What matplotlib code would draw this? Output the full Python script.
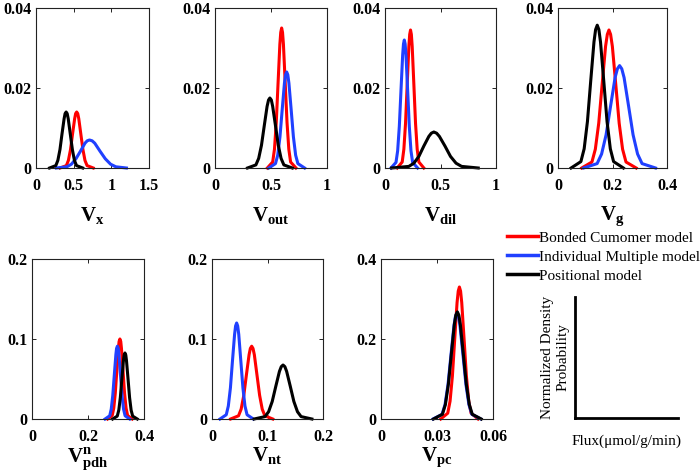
import matplotlib.pyplot as plt
from matplotlib.lines import Line2D

plt.rcParams['font.family'] = ['Liberation Serif', 'DejaVu Serif']
plt.rcParams['mathtext.fontset'] = 'custom'
plt.rcParams['mathtext.rm'] = 'Liberation Serif'
plt.rcParams['mathtext.bf'] = 'Liberation Serif:bold'
plt.rcParams['mathtext.it'] = 'Liberation Serif:italic'

RED = '#ff0000'
BLUE = '#2040ff'
BLACK = '#000000'

legend_labels = ['Bonded Cumomer model', 'Individual Multiple model', 'Positional model']

# ---- V_x ----
vx_red_x = [0.32, 0.403, 0.43, 0.458, 0.485, 0.513, 0.526, 0.54, 0.554, 0.568, 0.595, 0.623, 0.65, 0.678, 0.76]
vx_red_y = [0, 0.0006, 0.0019, 0.0046, 0.0085, 0.0123, 0.0136, 0.014, 0.0136, 0.0123, 0.0085, 0.0046, 0.0019, 0.0006, 0]
vx_blue_x = [0.27, 0.41, 0.47, 0.53, 0.59, 0.65, 0.68, 0.71, 0.745, 0.78, 0.85, 0.92, 0.99, 1.06, 1.2]
vx_blue_y = [0, 0.0003, 0.00095, 0.0023, 0.0042, 0.0062, 0.0068, 0.007, 0.0068, 0.0062, 0.0042, 0.0023, 0.00095, 0.0003, 0]
vx_black_x = [0.18, 0.263, 0.29, 0.318, 0.345, 0.373, 0.386, 0.40, 0.414, 0.428, 0.455, 0.483, 0.51, 0.538, 0.62]
vx_black_y = [0, 0.0006, 0.0019, 0.0046, 0.0085, 0.0123, 0.0136, 0.014, 0.0136, 0.0123, 0.0085, 0.0046, 0.0019, 0.0006, 0]

# ---- V_out ----
vout_red_x = [0.467, 0.515, 0.531, 0.547, 0.563, 0.579, 0.587, 0.595, 0.603, 0.611, 0.627, 0.643, 0.659, 0.675, 0.723]
vout_red_y = [0, 0.0015, 0.0047, 0.0114, 0.0212, 0.0309, 0.0339, 0.035, 0.0339, 0.0309, 0.0212, 0.0114, 0.0047, 0.0015, 0]
vout_blue_x = [0.48, 0.54, 0.56, 0.58, 0.60, 0.62, 0.63, 0.64, 0.65, 0.66, 0.68, 0.70, 0.72, 0.74, 0.80]
vout_blue_y = [0, 0.0011, 0.0032, 0.0078, 0.0146, 0.0212, 0.0233, 0.024, 0.0233, 0.0212, 0.0146, 0.0078, 0.0032, 0.0011, 0]
vout_black_x = [0.29, 0.365, 0.39, 0.415, 0.44, 0.465, 0.478, 0.49, 0.503, 0.515, 0.54, 0.565, 0.59, 0.615, 0.69]
vout_black_y = [0, 0.00077, 0.0024, 0.0057, 0.0106, 0.0154, 0.017, 0.0175, 0.017, 0.0154, 0.0106, 0.0057, 0.0024, 0.00077, 0]

# ---- V_dil ----
vdil_red_x = [0.11, 0.155, 0.17, 0.185, 0.20, 0.215, 0.2225, 0.23, 0.2375, 0.245, 0.26, 0.275, 0.29, 0.305, 0.35]
vdil_red_y = [0, 0.0015, 0.0047, 0.0112, 0.0209, 0.0304, 0.0334, 0.0345, 0.0334, 0.0304, 0.0209, 0.0112, 0.0047, 0.0015, 0]
vdil_blue_x = [0.054, 0.099, 0.114, 0.129, 0.144, 0.159, 0.1665, 0.174, 0.1815, 0.189, 0.204, 0.219, 0.234, 0.249, 0.294]
vdil_blue_y = [0, 0.0014, 0.0043, 0.0104, 0.0194, 0.0282, 0.031, 0.032, 0.031, 0.0282, 0.0194, 0.0104, 0.0043, 0.0014, 0]
vdil_black_x = [0.06, 0.215, 0.26, 0.305, 0.35, 0.395, 0.4175, 0.44, 0.465, 0.49, 0.54, 0.59, 0.64, 0.69, 0.84]
vdil_black_y = [0, 0.0004, 0.0012, 0.0029, 0.0055, 0.0079, 0.0087, 0.009, 0.0087, 0.0079, 0.0055, 0.0029, 0.0012, 0.0004, 0]

# ---- V_g ----
vg_red_x = [0.087, 0.1245, 0.137, 0.1495, 0.162, 0.1745, 0.181, 0.187, 0.193, 0.1995, 0.212, 0.2245, 0.237, 0.2495, 0.287]
vg_red_y = [0, 0.0015, 0.0047, 0.0112, 0.0209, 0.0304, 0.0334, 0.0345, 0.0334, 0.0304, 0.0209, 0.0112, 0.0047, 0.0015, 0]
vg_blue_x = [0.094, 0.1435, 0.16, 0.1765, 0.193, 0.2095, 0.218, 0.226, 0.234, 0.2425, 0.259, 0.2755, 0.292, 0.3085, 0.358]
vg_blue_y = [0, 0.0011, 0.0035, 0.0083, 0.0155, 0.0226, 0.0248, 0.0256, 0.0248, 0.0226, 0.0155, 0.0083, 0.0035, 0.0011, 0]
vg_black_x = [0.048, 0.084, 0.096, 0.108, 0.12, 0.132, 0.138, 0.144, 0.15, 0.156, 0.168, 0.18, 0.192, 0.204, 0.24]
vg_black_y = [0, 0.0016, 0.0048, 0.0116, 0.0217, 0.0315, 0.0346, 0.0357, 0.0346, 0.0315, 0.0217, 0.0116, 0.0048, 0.0016, 0]

# ---- V_pdh^n ----
vpdh_red_x = [0.27, 0.2865, 0.292, 0.2975, 0.303, 0.3085, 0.311, 0.314, 0.317, 0.3195, 0.325, 0.3305, 0.336, 0.3415, 0.358]
vpdh_red_y = [0, 0.0044, 0.0135, 0.0325, 0.0607, 0.0882, 0.0969, 0.1, 0.0969, 0.0882, 0.0607, 0.0325, 0.0135, 0.0044, 0]
vpdh_blue_x = [0.261, 0.2775, 0.283, 0.2885, 0.294, 0.2995, 0.302, 0.305, 0.308, 0.3105, 0.316, 0.3215, 0.327, 0.3325, 0.349]
vpdh_blue_y = [0, 0.004, 0.0123, 0.0296, 0.0552, 0.0803, 0.0882, 0.091, 0.0882, 0.0803, 0.0552, 0.0296, 0.0123, 0.004, 0]
vpdh_black_x = [0.288, 0.3045, 0.31, 0.3155, 0.321, 0.3265, 0.329, 0.332, 0.335, 0.3375, 0.343, 0.3485, 0.354, 0.3595, 0.376]
vpdh_black_y = [0, 0.0036, 0.0111, 0.0268, 0.0501, 0.0728, 0.0799, 0.0825, 0.0799, 0.0728, 0.0501, 0.0268, 0.0111, 0.0036, 0]

# ---- V_nt ----
vnt_red_x = [0.0335, 0.0478, 0.0525, 0.0573, 0.062, 0.0668, 0.0691, 0.0715, 0.0739, 0.0763, 0.081, 0.0858, 0.0905, 0.0953, 0.1095]
vnt_red_y = [0, 0.004, 0.0123, 0.0296, 0.0552, 0.0803, 0.0882, 0.091, 0.0882, 0.0803, 0.0552, 0.0296, 0.0123, 0.004, 0]
vnt_blue_x = [0.0144, 0.0257, 0.0294, 0.0332, 0.0369, 0.0407, 0.0425, 0.0444, 0.0463, 0.0482, 0.0519, 0.0557, 0.0594, 0.0632, 0.0744]
vnt_blue_y = [0, 0.0053, 0.0162, 0.039, 0.0728, 0.1058, 0.1163, 0.12, 0.1163, 0.1058, 0.0728, 0.039, 0.0162, 0.0053, 0]
vnt_black_x = [0.076, 0.0955, 0.102, 0.1085, 0.115, 0.1215, 0.1248, 0.128, 0.1313, 0.1345, 0.141, 0.1475, 0.154, 0.1605, 0.18]
vnt_black_y = [0, 0.003, 0.0091, 0.0219, 0.041, 0.0595, 0.0654, 0.0675, 0.0654, 0.0595, 0.041, 0.0219, 0.0091, 0.003, 0]

# ---- V_pc ----
vpc_red_x = [0.032, 0.03575, 0.037, 0.03825, 0.0395, 0.04075, 0.04138, 0.042, 0.04263, 0.04325, 0.0445, 0.04575, 0.047, 0.04825, 0.052]
vpc_red_y = [0, 0.0145, 0.0446, 0.1073, 0.2003, 0.2911, 0.3198, 0.33, 0.3198, 0.2911, 0.2003, 0.1073, 0.0446, 0.0145, 0]
vpc_blue_x = [0.0279, 0.0327, 0.0343, 0.0359, 0.0375, 0.0391, 0.0399, 0.0407, 0.0415, 0.0423, 0.0439, 0.0455, 0.0471, 0.0487, 0.0535]
vpc_blue_y = [0, 0.0117, 0.0358, 0.0861, 0.1609, 0.2337, 0.2568, 0.265, 0.2568, 0.2337, 0.1609, 0.0861, 0.0358, 0.0117, 0]
vpc_black_x = [0.0281, 0.0329, 0.0345, 0.0361, 0.0377, 0.0393, 0.0401, 0.0409, 0.0417, 0.0425, 0.0441, 0.0457, 0.0473, 0.0489, 0.0537]
vpc_black_y = [0, 0.0118, 0.0362, 0.0871, 0.1627, 0.2364, 0.2597, 0.268, 0.2597, 0.2364, 0.1627, 0.0871, 0.0362, 0.0118, 0]

# ticks
top_yticks = [0, 0.02, 0.04]
top_yticklabels = ['0', '0.02', '0.04']

# (label, curves, xlim, xticks, xticklabels, ylim, yticks, yticklabels, rect, labelpad)
panels = [
    (r'$\mathbf{V_{x}}$', [(vx_red_x, vx_red_y), (vx_blue_x, vx_blue_y), (vx_black_x, vx_black_y)],
     (0, 1.5), [0, 0.5, 1, 1.5], ['0', '0.5', '1', '1.5'], (0, 0.04), top_yticks, top_yticklabels,
     [36, 8, 113, 160], 8),
    (r'$\mathbf{V_{out}}$', [(vout_red_x, vout_red_y), (vout_blue_x, vout_blue_y), (vout_black_x, vout_black_y)],
     (0, 1), [0, 0.5, 1], ['0', '0.5', '1'], (0, 0.04), top_yticks, top_yticklabels,
     [215, 8, 112, 160], 8),
    (r'$\mathbf{V_{dil}}$', [(vdil_red_x, vdil_red_y), (vdil_blue_x, vdil_blue_y), (vdil_black_x, vdil_black_y)],
     (0, 1), [0, 0.5, 1], ['0', '0.5', '1'], (0, 0.04), top_yticks, top_yticklabels,
     [385, 8, 111, 160], 8),
    (r'$\mathbf{V_{g}}$', [(vg_red_x, vg_red_y), (vg_blue_x, vg_blue_y), (vg_black_x, vg_black_y)],
     (0, 0.4), [0, 0.2, 0.4], ['0', '0.2', '0.4'], (0, 0.04), top_yticks, top_yticklabels,
     [558, 8, 109, 160], 8),
    (r'$\mathbf{V^{n}_{pdh}}$', [(vpdh_red_x, vpdh_red_y), (vpdh_blue_x, vpdh_blue_y), (vpdh_black_x, vpdh_black_y)],
     (0, 0.4), [0, 0.2, 0.4], ['0', '0.2', '0.4'], (0, 0.2), [0, 0.1, 0.2], ['0', '0.1', '0.2'],
     [32, 259, 112, 160], 0.5),
    (r'$\mathbf{V_{nt}}$', [(vnt_red_x, vnt_red_y), (vnt_blue_x, vnt_blue_y), (vnt_black_x, vnt_black_y)],
     (0, 0.2), [0, 0.1, 0.2], ['0', '0.1', '0.2'], (0, 0.2), [0, 0.1, 0.2], ['0', '0.1', '0.2'],
     [212, 259, 111, 160], 0.5),
    (r'$\mathbf{V_{pc}}$', [(vpc_red_x, vpc_red_y), (vpc_blue_x, vpc_blue_y), (vpc_black_x, vpc_black_y)],
     (0, 0.06), [0, 0.03, 0.06], ['0', '0.03', '0.06'], (0, 0.4), [0, 0.2, 0.4], ['0', '0.2', '0.4'],
     [381, 259, 112, 160], 0.5),
]

W, H = 700, 475
fig = plt.figure(figsize=(W / 100, H / 100), dpi=100)


def px_rect(r):
    x, y, w, h = r
    return [x / W, (H - y - h) / H, w / W, h / H]


colors = [RED, BLUE, BLACK]
for label, curves, xlim, xt, xtl, ylim, yt, ytl, rect, lpad in panels:
    ax = fig.add_axes(px_rect(rect))
    for (cx, cy), c in zip(curves, colors):
        ax.plot(cx, cy, color=c, lw=2.2, solid_joinstyle='round', clip_on=False)
    ax.set_xlim(*xlim)
    ax.set_ylim(*ylim)
    ax.set_xticks(xt)
    ax.set_xticklabels(xtl, fontweight='bold', fontsize=11.5)
    ax.set_yticks(yt)
    ax.set_yticklabels(ytl, fontweight='bold', fontsize=11.5)
    ax.tick_params(direction='in', top=True, right=True, length=3, width=0.6)
    ax.tick_params(axis='x', pad=7)
    ax.tick_params(axis='y', pad=3)
    for s in ax.spines.values():
        s.set_linewidth(0.8)
        s.set_color('#222222')
    ax.set_xlabel(label, fontsize=15, labelpad=lpad)

# legend
handles = [Line2D([], [], color=c, lw=2.5) for c in colors]
fig.legend(handles, legend_labels, loc='upper left', bbox_to_anchor=(507 / W, 1 - 231 / H),
           frameon=False, fontsize=11, handlelength=2.0, handletextpad=0.1,
           labelspacing=0.35, borderaxespad=0, borderpad=0)

# schematic axes
sk = fig.add_axes(px_rect([575, 297, 103, 121]))
sk.set_xticks([])
sk.set_yticks([])
sk.spines['top'].set_visible(False)
sk.spines['right'].set_visible(False)
sk.spines['left'].set_linewidth(2)
sk.spines['bottom'].set_linewidth(2)
sk.set_ylabel('Normalized Density\nProbability', fontsize=11, labelpad=4)
sk.set_xlabel('Flux(\u03bcmol/g/min)', fontsize=11, labelpad=12)

fig.savefig('out.png', dpi=100)
